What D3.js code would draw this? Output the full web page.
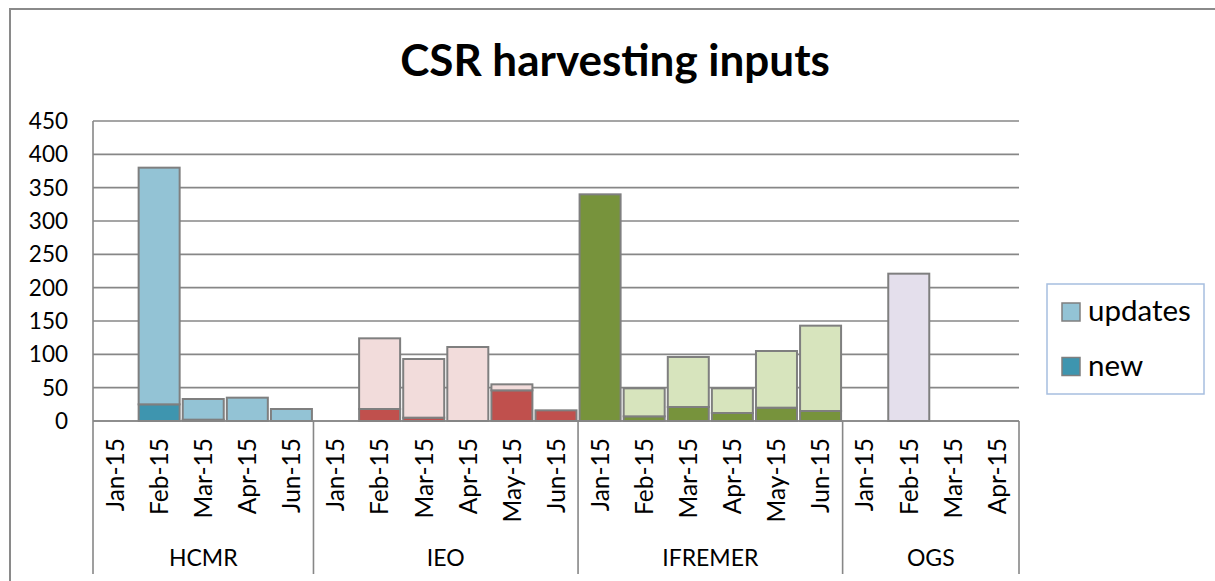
<!DOCTYPE html>
<html>
<head>
<meta charset="utf-8">
<script src="https://cdn.jsdelivr.net/npm/d3@7"></script>
<style>
  html, body { margin: 0; padding: 0; background: #ffffff; }
  svg { display: block; font-family: Lato, "Open Sans", sans-serif; }
</style>
</head>
<body>
<svg id="chart" width="1215" height="581"></svg>
<script>
// ---- data ----
const groups = ["HCMR", "IEO", "IFREMER", "OGS"];
const groupMonths = [
  ["Jan-15", "Feb-15", "Mar-15", "Apr-15", "Jun-15"],
  ["Jan-15", "Feb-15", "Mar-15", "Apr-15", "May-15", "Jun-15"],
  ["Jan-15", "Feb-15", "Mar-15", "Apr-15", "May-15", "Jun-15"],
  ["Jan-15", "Feb-15", "Mar-15", "Apr-15"]
];
// stacked: "new" at bottom, "updates" on top
const newValues = [
  0, 25, 2, 0, 0,
  0, 18, 5, 0, 46, 16,
  340, 7, 21, 12, 20, 15,
  0, 0, 0, 0
];
const updateValues = [
  0, 355, 31, 35, 18,
  0, 106, 88, 111, 9, 0,
  0, 42, 75, 37, 85, 128,
  0, 221, 0, 0
];
const yTicks = [0, 50, 100, 150, 200, 250, 300, 350, 400, 450];
const seriesNames = ["updates", "new"];
const updatesColors = ["#93C3D5", "#F2DCDB", "#D7E4BD", "#E4DFEC"];
const newColors = ["#3E95AF", "#C0504D", "#77933C", "#8064A2"];
const titleText = "CSR harvesting inputs";

// ---- build rows ----
const rows = [];
let idx = 0;
groups.forEach((g, gi) => {
  groupMonths[gi].forEach(m => {
    rows.push({ key: g + "|" + m, group: g, gi: gi, month: m,
                nv: newValues[idx], uv: updateValues[idx] });
    idx++;
  });
});

const svg = d3.select("#chart");
const pLeft = 93, pRight = 1019, pTop = 121, pBottom = 421;
const gridColor = "#878787";

const x = d3.scaleBand().domain(rows.map(r => r.key))
  .range([pLeft, pRight]).paddingInner(0.07).paddingOuter(0.035);
const y = d3.scaleLinear().domain([0, 450]).range([pBottom, pTop]);

// outer frame
svg.append("path").attr("d", `M10,581 L10,9 L1215,9`)
  .attr("fill", "none").attr("stroke", "#8a8a8a").attr("stroke-width", 2);

// title
svg.append("text").attr("x", 615).attr("y", 76)
  .attr("text-anchor", "middle").attr("font-size", 44).attr("font-weight", "bold")
  .attr("fill", "#000").text(titleText);

// gridlines
svg.append("g").selectAll("line").data(yTicks).join("line")
  .attr("x1", pLeft).attr("x2", pRight)
  .attr("y1", d => y(d)).attr("y2", d => y(d))
  .attr("stroke", gridColor).attr("stroke-width", 1.6);

// y-axis line
svg.append("line").attr("x1", pLeft).attr("x2", pLeft).attr("y1", pTop).attr("y2", pBottom)
  .attr("stroke", gridColor).attr("stroke-width", 1.6);

// y labels
svg.append("g").selectAll("text").data(yTicks).join("text")
  .attr("x", 68).attr("y", d => y(d)).attr("dy", "0.36em")
  .attr("text-anchor", "end").attr("font-size", 22.5).attr("fill", "#000")
  .text(d => d);

// bars
const bw = x.bandwidth();
const barG = svg.append("g");
rows.forEach(r => {
  if (r.nv > 0) {
    barG.append("rect").attr("x", x(r.key)).attr("width", bw)
      .attr("y", y(r.nv)).attr("height", y(0) - y(r.nv))
      .attr("fill", newColors[r.gi]).attr("stroke", "#7f7f7f").attr("stroke-width", 2);
  }
  if (r.uv > 0) {
    barG.append("rect").attr("x", x(r.key)).attr("width", bw)
      .attr("y", y(r.nv + r.uv)).attr("height", y(r.nv) - y(r.nv + r.uv))
      .attr("fill", updatesColors[r.gi]).attr("stroke", "#7f7f7f").attr("stroke-width", 2);
  }
});

// x axis line
svg.append("line").attr("x1", pLeft).attr("x2", pRight).attr("y1", pBottom).attr("y2", pBottom)
  .attr("stroke", gridColor).attr("stroke-width", 1.6);

// group dividers
const step = x.step();
const bounds = [];
let start = 0;
groups.forEach((g, gi) => {
  const n = groupMonths[gi].length;
  bounds.push({ g: g, x0: pLeft + start * step, x1: pLeft + (start + n) * step });
  start += n;
});
const divX = [pLeft].concat(bounds.map(b => b.x1));
svg.append("g").selectAll("line").data(divX).join("line")
  .attr("x1", d => d).attr("x2", d => d).attr("y1", pBottom).attr("y2", 574)
  .attr("stroke", gridColor).attr("stroke-width", 1.6);

// month labels
svg.append("g").selectAll("text").data(rows).join("text")
  .attr("transform", r => `translate(${x(r.key) + bw / 2},438) rotate(-90)`)
  .attr("dy", "0.36em").attr("text-anchor", "end")
  .attr("font-size", 24.5).attr("fill", "#000")
  .text(r => r.month);

// group labels
svg.append("g").selectAll("text").data(bounds).join("text")
  .attr("x", b => (b.x0 + b.x1) / 2).attr("y", 566)
  .attr("text-anchor", "middle").attr("font-size", 23).attr("fill", "#000")
  .text(b => b.g);

// legend
const lg = svg.append("g");
lg.append("rect").attr("x", 1047).attr("y", 284).attr("width", 157).attr("height", 110)
  .attr("fill", "#fff").attr("stroke", "#A7BEDF").attr("stroke-width", 1.5);
const legColors = [updatesColors[0], newColors[0]];
seriesNames.forEach((s, i) => {
  const yy = 303 + i * 54.5;
  lg.append("rect").attr("x", 1062).attr("y", yy).attr("width", 18).attr("height", 18)
    .attr("fill", legColors[i]).attr("stroke", "#7f7f7f").attr("stroke-width", 1.5);
  lg.append("text").attr("x", 1088).attr("y", yy + 18)
    .attr("font-size", 29.5).attr("fill", "#000").text(s);
});
</script>
</body>
</html>
